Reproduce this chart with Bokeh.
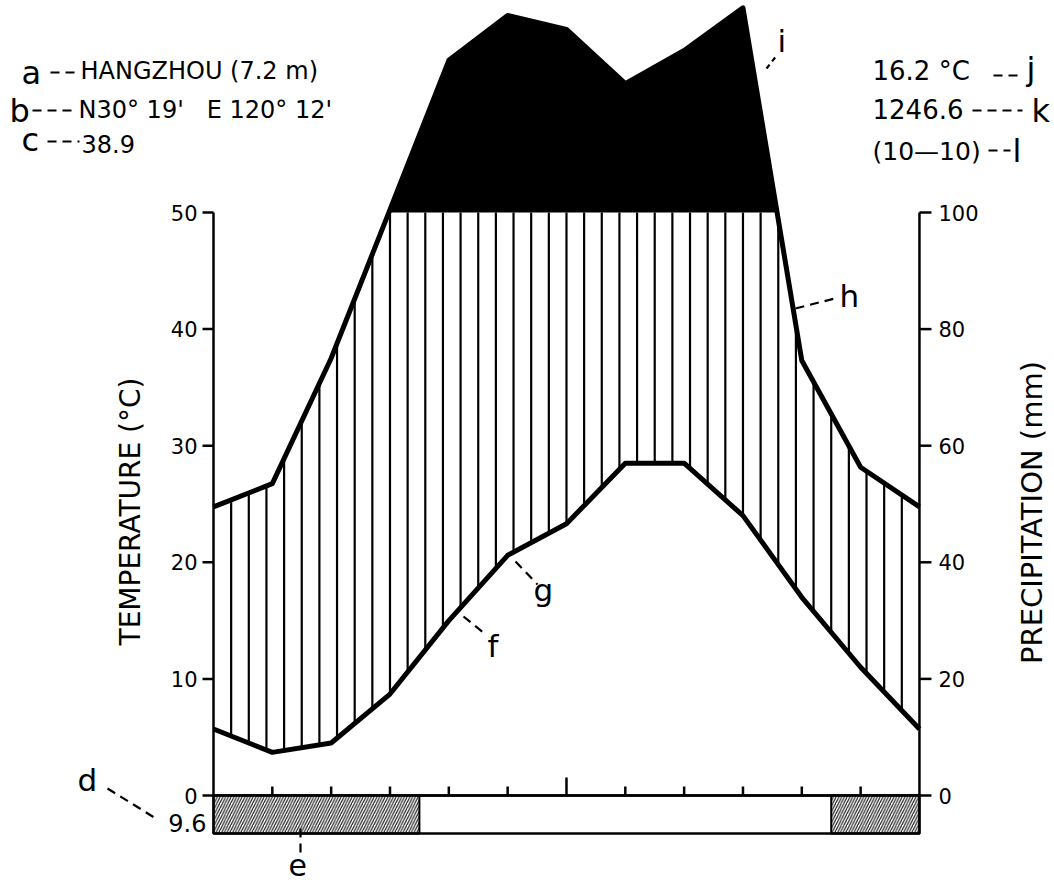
import numpy as np
from bokeh.plotting import figure
from bokeh.models import Range1d, Label, Arrow
from bokeh.core.properties import value
from bokeh.embed import file_html
from bokeh.resources import INLINE

# ---------------- data ----------------
# position 0 = previous December, 1..12 = January..December
month_pos = list(range(13))
temperature_c = [5.7, 3.7, 4.5, 8.7, 15.0, 20.6, 23.3, 28.5, 28.5, 24.0, 17.0, 11.0, 5.7]
precip_mm = [49.5, 53.5, 75.0, 100.5, 126.1, 133.8, 131.4, 122.1, 127.8, 135.1, 74.6, 56.3, 49.5]
frost_start = [0.0, 10.5]
frost_end = [3.5, 12.0]
month_ticks = list(range(1, 12))
temp_ticks = [0, 10, 20, 30, 40, 50]
precip_ticks = [0, 20, 40, 60, 80, 100]

NB = "\u00a0"
station = "HANGZHOU (7.2 m)"
coords = f"N30°{NB}19'{NB}{NB}{NB}E{NB}120°{NB}12'"
years_c = "38.9"
mean_temp = f"16.2{NB}°C"
annual_precip = "1246.6"
period = "(10—10)"
abs_min = "9.6"

FONT = "DejaVu Sans"

# ---------------- layout helpers (picture pixel -> data) ----------------
W, H = 1054, 882
X0, XPX = 213.0, 58.83      # pixel x of month 0, px per month
Y0, YPX = 795.0, 11.66      # pixel y of 0 degC, px per degC


def dx(px):
    return (px - X0) / XPX


def dy(py):
    return (Y0 - py) / YPX


p = figure(width=W, height=H, x_range=Range1d(dx(0), dx(W)), y_range=Range1d(dy(H), dy(0)),
           x_axis_type=None, y_axis_type=None, output_backend="svg", toolbar_location=None,
           min_border=0, min_border_left=0, min_border_right=0, min_border_top=0, min_border_bottom=0)
p.outline_line_color = None
p.background_fill_color = "white"
p.border_fill_color = "white"

# ---------------- areas ----------------
pr_scaled = np.array(precip_mm) / 2.0          # 2 mm = 1 degC
xs = np.linspace(0, 12, 1201)
pr_dense = np.interp(xs, month_pos, pr_scaled)
p.varea(x=xs, y1=50, y2=np.maximum(pr_dense, 50), fill_color="black")

# humid-period vertical hatching
hx = np.arange(1, 40) * 12 / 40
t_at = np.interp(hx, month_pos, temperature_c)
p_at = np.minimum(np.interp(hx, month_pos, pr_scaled), 50)
mask = p_at > t_at
p.segment(x0=hx[mask], y0=t_at[mask], x1=hx[mask], y1=p_at[mask], line_width=2.2, line_color="black")

# curves
p.line(month_pos, pr_scaled, line_width=5, line_color="black", line_join="round")
p.line(month_pos, temperature_c, line_width=5, line_color="black", line_join="round")

# ---------------- axes (drawn on the data scales) ----------------
AX = dict(line_width=2.5, line_color="black")
# left temperature axis
p.segment(x0=[0], y0=[0], x1=[0], y1=[50], **AX)
p.segment(x0=0, y0=temp_ticks, x1=-11 / XPX, y1=temp_ticks, **AX)
p.text(x=-16 / XPX, y=temp_ticks, text=[str(t) for t in temp_ticks], text_font=value(FONT),
       text_font_size=value("21px"), text_align="right", text_baseline="middle", text_color="black")
# right precipitation axis
pt_scaled = [t / 2.0 for t in precip_ticks]
p.segment(x0=[12], y0=[0], x1=[12], y1=[50], **AX)
p.segment(x0=12, y0=pt_scaled, x1=12 + 12 / XPX, y1=pt_scaled, **AX)
p.text(x=12 + 19 / XPX, y=pt_scaled, text=[str(t) for t in precip_ticks], text_font=value(FONT),
       text_font_size=value("21px"), text_align="left", text_baseline="middle", text_color="black")
# bottom month axis
p.segment(x0=[0], y0=[0], x1=[12], y1=[0], **AX)
tick_len = np.where(np.array(month_ticks) == 6, 18, 9) / YPX
p.segment(x0=month_ticks, y0=0, x1=month_ticks, y1=tick_len, **AX)

# frost bar
bar_bottom = dy(833)
p.quad(left=frost_start, right=frost_end, top=0, bottom=bar_bottom, fill_color="white",
       hatch_pattern="/", hatch_scale=5.5, hatch_weight=1.2, hatch_color="#222222",
       line_color="black", line_width=2)
p.quad(left=[0], right=[12], top=[0], bottom=[bar_bottom], fill_color=None,
       line_color="black", line_width=2.5)


# ---------------- texts ----------------
def txt(s, px, py, size, align="left", angle=0.0):
    """py is the wanted baseline (pixel); corrected for the renderer's baseline offset."""
    p.add_layout(Label(x=dx(px), y=dy(py - 0.36 * size), text=s, text_font=FONT,
                       text_font_size=f"{size}px", text_align=align, text_baseline="alphabetic",
                       angle=angle, text_color="black"))


def title(s, px, py, size):
    p.add_layout(Label(x=dx(px), y=dy(py), text=s, text_font=FONT, text_font_size=f"{size}px",
                       text_align="center", text_baseline="middle", angle=np.pi / 2,
                       text_color="black"))


def leader(x1, y1, x2, y2, dash="9 6"):
    p.add_layout(Arrow(x_start=dx(x1), y_start=dy(y1), x_end=dx(x2), y_end=dy(y2), end=None,
                       line_width=2.2, line_color="black", line_dash=dash))


# station block (left)
txt("a", 21, 84, 32)
leader(50, 72, 78, 72)
txt(station, 80, 79, 24)
txt("b", 9, 122, 32)
leader(32, 110, 77, 110)
txt(coords, 78, 118, 24)
txt("c", 21, 151, 32)
leader(47, 141, 79, 141)
txt(years_c, 81, 152, 24)

# right block
txt(mean_temp, 872, 80, 26)
leader(993, 75, 1022, 75)
txt("j", 1026, 80, 32)
txt(annual_precip, 872, 118, 26)
leader(972, 110, 1022, 110)
txt("k", 1031, 122, 32)
txt(period, 872, 160, 25)
leader(988, 150, 1010, 150)
txt("l", 1012, 162, 32)

# axis titles
title("TEMPERATURE (°C)", 130, 511, 28)
title("PRECIPITATION (mm)", 1031, 512, 29)

# annotation letters
txt("d", 77, 791, 31)
leader(107, 788, 157, 819)
txt(abs_min, 206, 831, 24, align="right")
leader(300, 828, 300, 856)
txt("e", 288, 875, 30)
leader(463, 616, 484, 633)
txt("f", 487, 657, 31)
leader(515, 561, 537, 584)
txt("g", 533, 601, 31)
leader(795, 308, 838, 297)
txt("h", 839, 307, 31)
leader(766, 68, 777, 54, dash="5 4")
txt("i", 777, 52, 31)

open("out.html", "w").write(file_html(p, INLINE))
